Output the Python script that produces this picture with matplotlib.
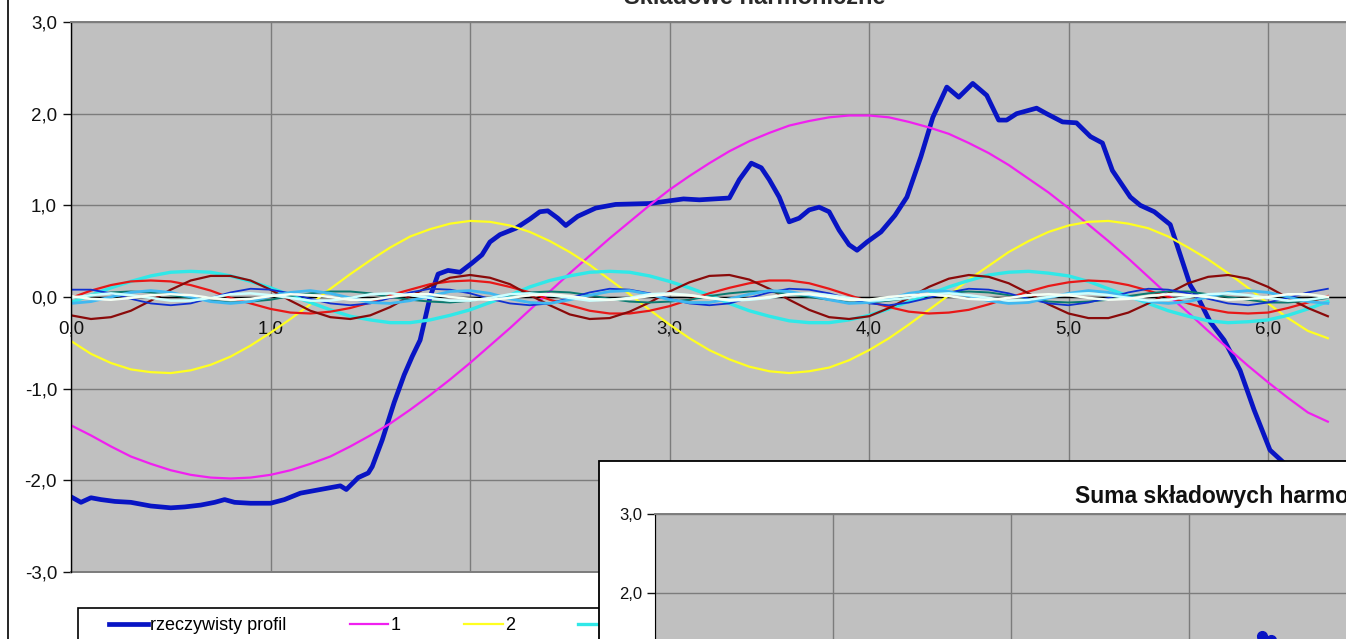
import matplotlib
matplotlib.use("Agg")
import matplotlib.pyplot as plt
from matplotlib.patches import Rectangle
from matplotlib.lines import Line2D

# ---------------- data ----------------
# measured profile (angle in rad, deviation)
profile_x = [0.00, 0.05, 0.10, 0.15, 0.22, 0.30, 0.40, 0.50, 0.57, 0.65,
             0.72, 0.77, 0.82, 0.90, 1.00, 1.07, 1.15, 1.25, 1.35, 1.38,
             1.44, 1.49, 1.51, 1.56, 1.62, 1.67, 1.71, 1.75, 1.80, 1.84,
             1.89, 1.95, 2.01, 2.06, 2.10, 2.15, 2.23, 2.30, 2.35, 2.39,
             2.44, 2.48, 2.54, 2.63, 2.73, 2.90, 3.07, 3.15, 3.30, 3.35,
             3.41, 3.46, 3.50, 3.55, 3.60, 3.65, 3.70, 3.75, 3.80, 3.85,
             3.90, 3.94, 3.99, 4.06, 4.13, 4.19, 4.26, 4.32, 4.39, 4.45,
             4.52, 4.59, 4.65, 4.69, 4.74, 4.84, 4.89, 4.97, 5.04, 5.11,
             5.17, 5.22, 5.31, 5.36, 5.43, 5.51, 5.56, 5.61, 5.65, 5.71,
             5.78, 5.86, 5.93, 6.01, 6.09, 6.17, 6.25]
profile_y = [-2.18, -2.24, -2.19, -2.21, -2.23, -2.24, -2.28, -2.30, -2.29, -2.27,
             -2.24, -2.21, -2.24, -2.25, -2.25, -2.21, -2.14, -2.10, -2.06, -2.10,
             -1.97, -1.92, -1.85, -1.56, -1.15, -0.85, -0.65, -0.47, 0.00, 0.25,
             0.29, 0.27, 0.37, 0.46, 0.60, 0.68, 0.75, 0.85, 0.93, 0.94,
             0.86, 0.78, 0.88, 0.97, 1.01, 1.02, 1.07, 1.06, 1.08, 1.28,
             1.46, 1.41, 1.28, 1.09, 0.82, 0.86, 0.95, 0.98, 0.93, 0.73,
             0.57, 0.51, 0.60, 0.71, 0.89, 1.09, 1.53, 1.96, 2.29, 2.18,
             2.33, 2.20, 1.93, 1.93, 2.00, 2.06, 2.00, 1.91, 1.90, 1.75,
             1.68, 1.38, 1.09, 1.00, 0.93, 0.79, 0.46, 0.13, -0.01, -0.27,
             -0.47, -0.80, -1.23, -1.67, -1.83, -2.00, -2.15]

# common angle grid of the harmonic components
angle = [0.0, 0.1, 0.2, 0.3, 0.4, 0.5, 0.6, 0.7, 0.8, 0.9,
         1.0, 1.1, 1.2, 1.3, 1.4, 1.5, 1.6, 1.7, 1.8, 1.9,
         2.0, 2.1, 2.2, 2.3, 2.4, 2.5, 2.6, 2.7, 2.8, 2.9,
         3.0, 3.1, 3.2, 3.3, 3.4, 3.5, 3.6, 3.7, 3.8, 3.9,
         4.0, 4.1, 4.2, 4.3, 4.4, 4.5, 4.6, 4.7, 4.8, 4.9,
         5.0, 5.1, 5.2, 5.3, 5.4, 5.5, 5.6, 5.7, 5.8, 5.9,
         6.0, 6.1, 6.2, 6.3]

h1 = [-1.40, -1.51, -1.63, -1.74, -1.82, -1.89, -1.94, -1.97, -1.98, -1.97,
      -1.94, -1.89, -1.82, -1.74, -1.63, -1.51, -1.38, -1.23, -1.07, -0.90,
      -0.72, -0.53, -0.34, -0.14, 0.06, 0.26, 0.45, 0.64, 0.82, 1.00,
      1.17, 1.32, 1.46, 1.59, 1.70, 1.79, 1.87, 1.92, 1.96, 1.98,
      1.98, 1.96, 1.91, 1.85, 1.78, 1.68, 1.57, 1.44, 1.29, 1.14,
      0.97, 0.79, 0.61, 0.42, 0.22, 0.02, -0.17, -0.37, -0.56, -0.75,
      -0.93, -1.10, -1.26, -1.36]
h2 = [-0.48, -0.62, -0.72, -0.79, -0.82, -0.83, -0.80, -0.74, -0.65, -0.53,
      -0.39, -0.24, -0.08, 0.09, 0.25, 0.40, 0.54, 0.66, 0.74, 0.80,
      0.83, 0.82, 0.78, 0.71, 0.61, 0.49, 0.35, 0.19, 0.03, -0.14,
      -0.30, -0.45, -0.58, -0.68, -0.76, -0.81, -0.83, -0.81, -0.77, -0.69,
      -0.58, -0.45, -0.30, -0.14, 0.02, 0.19, 0.34, 0.49, 0.61, 0.71,
      0.78, 0.82, 0.83, 0.80, 0.75, 0.66, 0.54, 0.41, 0.26, 0.10,
      -0.07, -0.23, -0.37, -0.45]
h3 = [-0.06, 0.02, 0.10, 0.17, 0.23, 0.27, 0.28, 0.27, 0.23, 0.17,
      0.10, 0.02, -0.06, -0.14, -0.21, -0.25, -0.28, -0.28, -0.25, -0.20,
      -0.14, -0.06, 0.02, 0.11, 0.18, 0.23, 0.27, 0.28, 0.27, 0.23,
      0.17, 0.10, 0.02, -0.07, -0.15, -0.21, -0.26, -0.28, -0.28, -0.25,
      -0.20, -0.13, -0.05, 0.03, 0.11, 0.18, 0.24, 0.27, 0.28, 0.26,
      0.23, 0.17, 0.09, 0.01, -0.07, -0.15, -0.21, -0.26, -0.28, -0.27,
      -0.25, -0.20, -0.13, -0.05]
h4 = [-0.01, 0.07, 0.13, 0.17, 0.18, 0.17, 0.13, 0.07, -0.01, -0.07,
      -0.13, -0.17, -0.18, -0.16, -0.12, -0.06, 0.02, 0.08, 0.14, 0.17,
      0.18, 0.16, 0.11, 0.05, -0.03, -0.09, -0.15, -0.18, -0.18, -0.15,
      -0.10, -0.03, 0.04, 0.10, 0.15, 0.18, 0.18, 0.15, 0.09, 0.02,
      -0.05, -0.11, -0.16, -0.18, -0.17, -0.14, -0.08, -0.01, 0.06, 0.12,
      0.16, 0.18, 0.17, 0.13, 0.07, 0.00, -0.07, -0.13, -0.17, -0.18,
      -0.17, -0.12, -0.06, 0.01]
h5 = [-0.20, -0.24, -0.22, -0.15, -0.04, 0.08, 0.18, 0.23, 0.23, 0.18,
      0.08, -0.04, -0.15, -0.22, -0.24, -0.20, -0.11, 0.01, 0.12, 0.21,
      0.24, 0.21, 0.14, 0.02, -0.09, -0.19, -0.24, -0.23, -0.16, -0.06,
      0.06, 0.16, 0.23, 0.24, 0.19, 0.09, -0.03, -0.14, -0.22, -0.24,
      -0.21, -0.12, -0.01, 0.11, 0.20, 0.24, 0.22, 0.15, 0.04, -0.08,
      -0.18, -0.23, -0.23, -0.17, -0.07, 0.04, 0.15, 0.22, 0.24, 0.20,
      0.11, -0.01, -0.12, -0.21]
h6 = [-0.01, 0.02, 0.05, 0.06, 0.05, 0.02, -0.01, -0.04, -0.06, -0.05,
      -0.03, 0.01, 0.04, 0.06, 0.06, 0.04, 0.00, -0.03, -0.05, -0.06,
      -0.04, -0.01, 0.02, 0.05, 0.06, 0.05, 0.02, -0.02, -0.05, -0.06,
      -0.05, -0.03, 0.01, 0.04, 0.06, 0.06, 0.03, 0.00, -0.03, -0.06,
      -0.06, -0.04, -0.01, 0.03, 0.05, 0.06, 0.05, 0.02, -0.02, -0.05,
      -0.06, -0.05, -0.03, 0.01, 0.04, 0.06, 0.06, 0.03, 0.00, -0.03,
      -0.06, -0.06, -0.04, -0.01]
h7 = [0.08, 0.08, 0.04, -0.02, -0.07, -0.09, -0.07, -0.01, 0.05, 0.09,
      0.08, 0.04, -0.02, -0.07, -0.09, -0.07, -0.01, 0.05, 0.09, 0.08,
      0.04, -0.02, -0.07, -0.09, -0.07, -0.01, 0.05, 0.09, 0.08, 0.04,
      -0.02, -0.07, -0.09, -0.07, -0.01, 0.05, 0.09, 0.08, 0.04, -0.02,
      -0.07, -0.09, -0.06, -0.01, 0.05, 0.09, 0.08, 0.04, -0.02, -0.07,
      -0.09, -0.06, -0.01, 0.05, 0.09, 0.08, 0.04, -0.02, -0.07, -0.09,
      -0.06, -0.01, 0.05, 0.09]
h8 = [-0.07, -0.05, 0.00, 0.05, 0.07, 0.05, 0.00, -0.05, -0.07, -0.05,
      0.01, 0.05, 0.07, 0.04, -0.01, -0.06, -0.07, -0.04, 0.01, 0.06,
      0.07, 0.04, -0.02, -0.06, -0.07, -0.03, 0.02, 0.06, 0.07, 0.03,
      -0.03, -0.06, -0.06, -0.02, 0.03, 0.07, 0.06, 0.02, -0.03, -0.07,
      -0.06, -0.02, 0.04, 0.07, 0.06, 0.01, -0.04, -0.07, -0.06, -0.01,
      0.04, 0.07, 0.05, 0.00, -0.05, -0.07, -0.05, 0.00, 0.05, 0.07,
      0.05, 0.00, -0.05, -0.07]
h9 = [-0.01, 0.02, 0.04, 0.02, -0.01, -0.04, -0.04, -0.01, 0.03, 0.04,
      0.02, -0.01, -0.04, -0.04, -0.01, 0.03, 0.04, 0.02, -0.01, -0.04,
      -0.04, -0.01, 0.03, 0.04, 0.02, -0.01, -0.04, -0.03, -0.01, 0.03,
      0.04, 0.02, -0.01, -0.04, -0.03, -0.01, 0.03, 0.04, 0.02, -0.01,
      -0.04, -0.03, -0.01, 0.03, 0.04, 0.02, -0.01, -0.04, -0.03, 0.00,
      0.03, 0.04, 0.02, -0.01, -0.04, -0.03, 0.00, 0.03, 0.04, 0.02,
      -0.01, -0.04, -0.03, 0.00]
h10 = [0.01, -0.02, -0.03, -0.01, 0.02, 0.03, 0.02, -0.01, -0.03, -0.02,
       0.01, 0.03, 0.02, 0.00, -0.03, -0.03, 0.00, 0.03, 0.03, 0.00,
       -0.02, -0.03, -0.01, 0.02, 0.03, 0.01, -0.02, -0.03, -0.02, 0.01,
       0.03, 0.02, -0.01, -0.03, -0.02, 0.00, 0.03, 0.03, 0.00, -0.03,
       -0.03, 0.00, 0.02, 0.03, 0.01, -0.02, -0.03, -0.01, 0.02, 0.03,
       0.02, -0.01, -0.03, -0.02, 0.01, 0.03, 0.02, 0.00, -0.03, -0.02,
       0.00, 0.03, 0.03, 0.00]

harmonics = [h1, h2, h3, h4, h5, h6, h7, h8, h9, h10]
harmonic_labels = ["1", "2", "3", "4", "5", "6", "7", "8", "9", "10"]
harmonic_colors = ["#F020F0", "#FFFF20", "#30E8E8", "#E81818", "#8A0A0A",
                   "#0A7A70", "#1030D0", "#40B8F0", "#CCFFFF", "#F4FFF4"]
harmonic_widths = [1.6, 1.6, 2.4, 1.6, 1.6, 1.4, 1.3, 2.0, 1.8, 1.8]

x_ticks = [0, 1, 2, 3, 4, 5, 6]
x_tick_labels = ["0,0", "1,0", "2,0", "3,0", "4,0", "5,0", "6,0"]
y_ticks = [-3, -2, -1, 0, 1, 2, 3]
y_tick_labels = ["-3,0", "-2,0", "-1,0", "0,0", "1,0", "2,0", "3,0"]

profile_label = "rzeczywisty profil"
main_title = "Składowe harmoniczne"
sum_title = "Suma składowych harmonicznych"

# ---------------- figure ----------------
plt.rcParams["font.family"] = ["Liberation Sans", "DejaVu Sans"]
W, H = 1346, 639
fig = plt.figure(figsize=(W / 100, H / 100), dpi=100)
fig.patch.set_facecolor("white")


def fx(px):
    return px / W


def fy(py):
    return 1 - py / H


GRID = "#7c7c7c"
PLOT_BG = "#C0C0C0"
BLUE = "#0814C4"

# chart-area border on the left
fig.add_artist(Line2D([fx(8), fx(8)], [0, 1], transform=fig.transFigure,
                      color="black", lw=1.2, zorder=1))

# main chart
ax = fig.add_axes([fx(71), fy(572), 7 * 199.5 / W, 550 / H], zorder=1)
ax.set_facecolor(PLOT_BG)
ax.set_xlim(0, 7)
ax.set_ylim(-3, 3)

handles = []
(lp,) = ax.plot(profile_x, profile_y, color=BLUE, lw=3.4, zorder=2,
                solid_joinstyle="round")
handles.append(lp)
for vals, col, lw in zip(harmonics, harmonic_colors, harmonic_widths):
    (ln,) = ax.plot(angle, vals, color=col, lw=lw, zorder=2)
    handles.append(ln)

ax.set_xticks(x_ticks)
ax.set_xticklabels(x_tick_labels)
ax.set_yticks(y_ticks)
ax.set_yticklabels(y_tick_labels)
ax.tick_params(axis="x", length=0, pad=17, labelsize=13.5, colors="#111111")
ax.tick_params(axis="y", length=6, width=1, pad=4, labelsize=13.5,
               direction="out", colors="#111111")
ax.grid(True, color=GRID, lw=1.0)
ax.set_axisbelow(True)

ax.spines["bottom"].set_position(("data", 0))
ax.spines["bottom"].set_color("black")
ax.spines["bottom"].set_linewidth(1.0)
ax.spines["bottom"].set_zorder(1.8)
ax.spines["left"].set_color("black")
ax.spines["left"].set_linewidth(1.0)
for s in ("top", "right"):
    ax.spines[s].set_color(GRID)
    ax.spines[s].set_linewidth(1.4)
ax.axhline(-3, color=GRID, lw=1.4, clip_on=False, zorder=1.5)

fig.text(fx(755), fy(4), main_title, ha="center", va="baseline",
         fontsize=17, fontweight="bold", color="#2a2a2a", zorder=4)

# legend of the main chart
fig.add_artist(Rectangle((fx(78), -0.1), 1.2, (H - 608) / H + 0.1,
                         transform=fig.transFigure, facecolor="white",
                         edgecolor="black", lw=1.2, zorder=1.5))
leg = fig.legend(handles, [profile_label] + harmonic_labels,
                 loc="upper left", bbox_to_anchor=(fx(109), fy(617)),
                 ncol=11, frameon=False, fontsize=13, handlelength=2.15,
                 handletextpad=0.12, columnspacing=3.5, borderpad=0,
                 borderaxespad=0)
leg.set_zorder(1.6)

# inset chart: sum of the harmonic components
fig.add_artist(Rectangle((fx(599), -0.1), 1.2, (H - 461) / H + 0.1,
                         transform=fig.transFigure, facecolor="white",
                         edgecolor="black", lw=1.3, zorder=2))
ax2 = fig.add_axes([fx(655), fy(514) - 474 / H, 7 * 178 / W, 474 / H], zorder=3)
ax2.set_facecolor(PLOT_BG)
ax2.set_xlim(0, 7)
ax2.set_ylim(-3, 3)
harmonic_sum = [sum(vals) for vals in zip(*harmonics)]
ax2.plot(angle, harmonic_sum, color="#FF00FF", lw=2.0, zorder=2)
ax2.plot(profile_x, profile_y, color=BLUE, lw=2.5, marker="o", ms=7,
         zorder=2.2)
ax2.set_xticks(x_ticks)
ax2.set_yticks(y_ticks)
ax2.set_yticklabels(y_tick_labels)
ax2.tick_params(axis="y", length=6, width=1, pad=3, labelsize=12,
                direction="out", colors="#111111")
ax2.tick_params(axis="x", length=0, labelbottom=False)
ax2.grid(True, color=GRID, lw=1.0)
ax2.set_axisbelow(True)
ax2.spines["left"].set_color("black")
for s in ("top", "right", "bottom"):
    ax2.spines[s].set_color(GRID)
    ax2.spines[s].set_linewidth(1.4)

fig.text(fx(1075), fy(503), sum_title, ha="left", va="baseline",
         fontsize=16.5, fontweight="bold", color="#111111", zorder=4)

fig.savefig("out.png", dpi=100)
